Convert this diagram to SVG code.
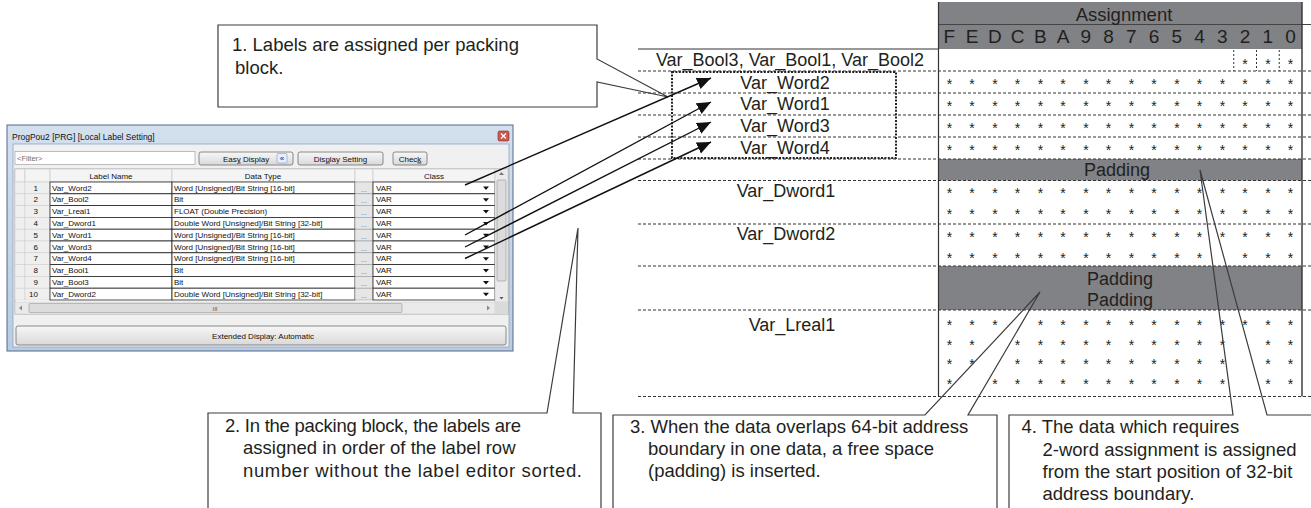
<svg xmlns="http://www.w3.org/2000/svg" width="1311" height="508" viewBox="0 0 1311 508">
<defs>
<style>
.t{font-family:"Liberation Sans",Arial,sans-serif;fill:#231f20}
.lbl{font-size:18px;text-anchor:middle}
.co{font-size:18.5px}
.st{font-size:14px;text-anchor:middle;fill:#222}
.dash{stroke:#333;stroke-width:1;stroke-dasharray:3 2;fill:none}
.dlg{font-family:"Liberation Sans",Arial,sans-serif;font-size:8px;fill:#111}
.hdr{fill:#f4f4f4;stroke:#c4c4c4;stroke-width:0.6}
.num{fill:#efefef;stroke:#cfcfcf;stroke-width:0.6}
.cell{fill:#fff;stroke:#222;stroke-width:0.8}
.dots{fill:#e6e6e6;stroke:#9a9a9a;stroke-width:0.6}
.btn{fill:url(#bg);stroke:#707070;stroke-width:0.8}
.callout{fill:none;stroke:#3c3c3c;stroke-width:1.2}
.arrow{stroke:#111;stroke-width:1.4;fill:none;marker-end:url(#ah)}
</style>
<linearGradient id="bg" x1="0" y1="0" x2="0" y2="1"><stop offset="0" stop-color="#f7f7f7"/><stop offset="1" stop-color="#d9d9d9"/></linearGradient>
<linearGradient id="tb" x1="0" y1="0" x2="0" y2="1"><stop offset="0" stop-color="#d3e0ee"/><stop offset="1" stop-color="#b9cce2"/></linearGradient>
<marker id="ah" markerUnits="userSpaceOnUse" markerWidth="16" markerHeight="14" refX="14" refY="6" orient="auto"><path d="M0,0 L14,6 L0,12 z" fill="#111"/></marker>
</defs>
<rect width="1311" height="508" fill="#fff"/>

<!-- Dialog window -->
<g id="dialog">
<rect x="7" y="125" width="506" height="226" fill="url(#tb)" stroke="#52698a" stroke-width="1"/>
<text class="dlg" x="12" y="140" style="font-size:8.5px">ProgPou2 [PRG] [Local Label Setting]</text>
<rect x="498" y="131" width="11" height="10" rx="1.5" fill="#c85a52" stroke="#8a2f2a" stroke-width="0.6"/>
<path d="M501,133.5 l5,5 M506,133.5 l-5,5" stroke="#fff" stroke-width="1.2"/>
<rect x="13" y="144" width="496" height="203" fill="#f0f0f0" stroke="#8ea5c2" stroke-width="0.8"/>
<rect x="15" y="151.5" width="180" height="13" fill="#fff" stroke="#abadb3" stroke-width="0.8"/>
<text class="dlg" x="17" y="161" style="fill:#707070;font-size:7.5px">&lt;Filter&gt;</text>
<rect class="btn" x="199" y="152" width="94" height="13" rx="2"/>
<text class="dlg" x="246" y="161.5" text-anchor="middle">Eas<tspan text-decoration="underline">y</tspan> Display</text>
<rect x="277" y="153.5" width="10" height="9.5" rx="1" fill="#e6eefa" stroke="#7f9bc4" stroke-width="0.6"/>
<text class="dlg" x="282" y="161" text-anchor="middle" style="fill:#2b5fb4;font-size:8px;font-weight:bold">«</text>
<rect class="btn" x="298" y="152" width="85" height="13" rx="2"/>
<text class="dlg" x="340.5" y="161.5" text-anchor="middle">Dis<tspan text-decoration="underline">p</tspan>lay Setting</text>
<rect class="btn" x="393" y="152" width="34" height="13" rx="2"/>
<text class="dlg" x="410" y="161.5" text-anchor="middle">Chec<tspan text-decoration="underline">k</tspan></text>

<!-- table header -->
<rect x="15" y="169" width="493" height="145" fill="#fff" stroke="#9a9a9a" stroke-width="0.8"/>
<rect class="hdr" x="15" y="169" width="10" height="13"/>
<rect class="hdr" x="25" y="169" width="25" height="13"/>
<rect class="hdr" x="50" y="169" width="122" height="13"/>
<rect class="hdr" x="172" y="169" width="183" height="13"/>
<rect class="hdr" x="355" y="169" width="18" height="13"/>
<rect class="hdr" x="373" y="169" width="122" height="13"/>
<text class="dlg" x="111" y="178.5" text-anchor="middle">Label Name</text>
<text class="dlg" x="263" y="178.5" text-anchor="middle">Data Type</text>
<text class="dlg" x="434" y="178.5" text-anchor="middle">Class</text>

<!-- rows -->
<g id="rows">
<g transform="translate(0,182)">
<rect class="num" x="15" y="0" width="10" height="11.8"/><rect class="num" x="25" y="0" width="25" height="11.8"/>
<rect class="cell" x="50" y="0" width="122" height="11.8"/><rect class="cell" x="172" y="0" width="183" height="11.8"/>
<rect class="dots" x="355" y="0" width="18" height="11.8"/><rect class="cell" x="373" y="0" width="122" height="11.8"/>
<text class="dlg" x="38" y="8.7" text-anchor="end">1</text><text class="dlg" x="52" y="8.7">Var_Word2</text>
<text class="dlg" x="174" y="8.7">Word [Unsigned]/Bit String [16-bit]</text><text class="dlg" x="364" y="9.5" text-anchor="middle" style="fill:#666;font-size:7px">...</text>
<text class="dlg" x="376" y="8.7">VAR</text><path d="M483,4.5 h6 l-3,3.5 z" fill="#111"/>
</g>
<g transform="translate(0,193.8)">
<rect class="num" x="15" y="0" width="10" height="11.8"/><rect class="num" x="25" y="0" width="25" height="11.8"/>
<rect class="cell" x="50" y="0" width="122" height="11.8"/><rect class="cell" x="172" y="0" width="183" height="11.8"/>
<rect class="dots" x="355" y="0" width="18" height="11.8"/><rect class="cell" x="373" y="0" width="122" height="11.8"/>
<text class="dlg" x="38" y="8.7" text-anchor="end">2</text><text class="dlg" x="52" y="8.7">Var_Bool2</text>
<text class="dlg" x="174" y="8.7">Bit</text><text class="dlg" x="364" y="9.5" text-anchor="middle" style="fill:#666;font-size:7px">...</text>
<text class="dlg" x="376" y="8.7">VAR</text><path d="M483,4.5 h6 l-3,3.5 z" fill="#111"/>
</g>
<g transform="translate(0,205.6)">
<rect class="num" x="15" y="0" width="10" height="11.8"/><rect class="num" x="25" y="0" width="25" height="11.8"/>
<rect class="cell" x="50" y="0" width="122" height="11.8"/><rect class="cell" x="172" y="0" width="183" height="11.8"/>
<rect class="dots" x="355" y="0" width="18" height="11.8"/><rect class="cell" x="373" y="0" width="122" height="11.8"/>
<text class="dlg" x="38" y="8.7" text-anchor="end">3</text><text class="dlg" x="52" y="8.7">Var_Lreal1</text>
<text class="dlg" x="174" y="8.7">FLOAT (Double Precision)</text><text class="dlg" x="364" y="9.5" text-anchor="middle" style="fill:#666;font-size:7px">...</text>
<text class="dlg" x="376" y="8.7">VAR</text><path d="M483,4.5 h6 l-3,3.5 z" fill="#111"/>
</g>
<g transform="translate(0,217.4)">
<rect class="num" x="15" y="0" width="10" height="11.8"/><rect class="num" x="25" y="0" width="25" height="11.8"/>
<rect class="cell" x="50" y="0" width="122" height="11.8"/><rect class="cell" x="172" y="0" width="183" height="11.8"/>
<rect class="dots" x="355" y="0" width="18" height="11.8"/><rect class="cell" x="373" y="0" width="122" height="11.8"/>
<text class="dlg" x="38" y="8.7" text-anchor="end">4</text><text class="dlg" x="52" y="8.7">Var_Dword1</text>
<text class="dlg" x="174" y="8.7">Double Word [Unsigned]/Bit String [32-bit]</text><text class="dlg" x="364" y="9.5" text-anchor="middle" style="fill:#666;font-size:7px">...</text>
<text class="dlg" x="376" y="8.7">VAR</text><path d="M483,4.5 h6 l-3,3.5 z" fill="#111"/>
</g>
<g transform="translate(0,229.2)">
<rect class="num" x="15" y="0" width="10" height="11.8"/><rect class="num" x="25" y="0" width="25" height="11.8"/>
<rect class="cell" x="50" y="0" width="122" height="11.8"/><rect class="cell" x="172" y="0" width="183" height="11.8"/>
<rect class="dots" x="355" y="0" width="18" height="11.8"/><rect class="cell" x="373" y="0" width="122" height="11.8"/>
<text class="dlg" x="38" y="8.7" text-anchor="end">5</text><text class="dlg" x="52" y="8.7">Var_Word1</text>
<text class="dlg" x="174" y="8.7">Word [Unsigned]/Bit String [16-bit]</text><text class="dlg" x="364" y="9.5" text-anchor="middle" style="fill:#666;font-size:7px">...</text>
<text class="dlg" x="376" y="8.7">VAR</text><path d="M483,4.5 h6 l-3,3.5 z" fill="#111"/>
</g>
<g transform="translate(0,241)">
<rect class="num" x="15" y="0" width="10" height="11.8"/><rect class="num" x="25" y="0" width="25" height="11.8"/>
<rect class="cell" x="50" y="0" width="122" height="11.8"/><rect class="cell" x="172" y="0" width="183" height="11.8"/>
<rect class="dots" x="355" y="0" width="18" height="11.8"/><rect class="cell" x="373" y="0" width="122" height="11.8"/>
<text class="dlg" x="38" y="8.7" text-anchor="end">6</text><text class="dlg" x="52" y="8.7">Var_Word3</text>
<text class="dlg" x="174" y="8.7">Word [Unsigned]/Bit String [16-bit]</text><text class="dlg" x="364" y="9.5" text-anchor="middle" style="fill:#666;font-size:7px">...</text>
<text class="dlg" x="376" y="8.7">VAR</text><path d="M483,4.5 h6 l-3,3.5 z" fill="#111"/>
</g>
<g transform="translate(0,252.8)">
<rect class="num" x="15" y="0" width="10" height="11.8"/><rect class="num" x="25" y="0" width="25" height="11.8"/>
<rect class="cell" x="50" y="0" width="122" height="11.8"/><rect class="cell" x="172" y="0" width="183" height="11.8"/>
<rect class="dots" x="355" y="0" width="18" height="11.8"/><rect class="cell" x="373" y="0" width="122" height="11.8"/>
<text class="dlg" x="38" y="8.7" text-anchor="end">7</text><text class="dlg" x="52" y="8.7">Var_Word4</text>
<text class="dlg" x="174" y="8.7">Word [Unsigned]/Bit String [16-bit]</text><text class="dlg" x="364" y="9.5" text-anchor="middle" style="fill:#666;font-size:7px">...</text>
<text class="dlg" x="376" y="8.7">VAR</text><path d="M483,4.5 h6 l-3,3.5 z" fill="#111"/>
</g>
<g transform="translate(0,264.6)">
<rect class="num" x="15" y="0" width="10" height="11.8"/><rect class="num" x="25" y="0" width="25" height="11.8"/>
<rect class="cell" x="50" y="0" width="122" height="11.8"/><rect class="cell" x="172" y="0" width="183" height="11.8"/>
<rect class="dots" x="355" y="0" width="18" height="11.8"/><rect class="cell" x="373" y="0" width="122" height="11.8"/>
<text class="dlg" x="38" y="8.7" text-anchor="end">8</text><text class="dlg" x="52" y="8.7">Var_Bool1</text>
<text class="dlg" x="174" y="8.7">Bit</text><text class="dlg" x="364" y="9.5" text-anchor="middle" style="fill:#666;font-size:7px">...</text>
<text class="dlg" x="376" y="8.7">VAR</text><path d="M483,4.5 h6 l-3,3.5 z" fill="#111"/>
</g>
<g transform="translate(0,276.4)">
<rect class="num" x="15" y="0" width="10" height="11.8"/><rect class="num" x="25" y="0" width="25" height="11.8"/>
<rect class="cell" x="50" y="0" width="122" height="11.8"/><rect class="cell" x="172" y="0" width="183" height="11.8"/>
<rect class="dots" x="355" y="0" width="18" height="11.8"/><rect class="cell" x="373" y="0" width="122" height="11.8"/>
<text class="dlg" x="38" y="8.7" text-anchor="end">9</text><text class="dlg" x="52" y="8.7">Var_Bool3</text>
<text class="dlg" x="174" y="8.7">Bit</text><text class="dlg" x="364" y="9.5" text-anchor="middle" style="fill:#666;font-size:7px">...</text>
<text class="dlg" x="376" y="8.7">VAR</text><path d="M483,4.5 h6 l-3,3.5 z" fill="#111"/>
</g>
<g transform="translate(0,288.2)">
<rect class="num" x="15" y="0" width="10" height="11.8"/><rect class="num" x="25" y="0" width="25" height="11.8"/>
<rect class="cell" x="50" y="0" width="122" height="11.8"/><rect class="cell" x="172" y="0" width="183" height="11.8"/>
<rect class="dots" x="355" y="0" width="18" height="11.8"/><rect class="cell" x="373" y="0" width="122" height="11.8"/>
<text class="dlg" x="38" y="8.7" text-anchor="end">10</text><text class="dlg" x="52" y="8.7">Var_Dword2</text>
<text class="dlg" x="174" y="8.7">Double Word [Unsigned]/Bit String [32-bit]</text><text class="dlg" x="364" y="9.5" text-anchor="middle" style="fill:#666;font-size:7px">...</text>
<text class="dlg" x="376" y="8.7">VAR</text><path d="M483,4.5 h6 l-3,3.5 z" fill="#111"/>
</g>
</g>
<!-- vertical scrollbar -->
<rect x="495" y="169" width="13" height="133" fill="#eaeaea" stroke="#c8c8c8" stroke-width="0.6"/>
<path d="M499,175 h5 l-2.5,-3 z" fill="#777"/>
<rect x="497" y="180" width="9" height="101" rx="1" fill="#dcdcdc" stroke="#999" stroke-width="0.6"/>
<path d="M499.5,297 h4 l-2,2.5 z" fill="#555"/>
<!-- horizontal scrollbar -->
<rect x="15" y="302" width="480" height="12" fill="#eaeaea" stroke="#c8c8c8" stroke-width="0.6"/>
<path d="M22,305.5 v5 l-3,-2.5 z" fill="#888"/>
<rect x="29" y="303.5" width="373" height="9" rx="1" fill="#dcdcdc" stroke="#9a9a9a" stroke-width="0.6"/>
<text class="dlg" x="215" y="311" text-anchor="middle" style="font-size:6px;fill:#555">III</text>
<path d="M487,305.5 v5 l3,-2.5 z" fill="#888"/>
<rect x="495" y="302" width="13" height="12" fill="#dadada"/>
<rect class="btn" x="16" y="326" width="490" height="19" rx="2"/>
<text class="dlg" x="263" y="338.5" text-anchor="middle">Extended Display: Automatic</text>
</g>

<!-- Assignment table -->
<g id="assignment-header">
<rect x="938" y="2" width="364" height="47" fill="#808285"/>
<line x1="938" y1="24.5" x2="1311" y2="24.5" stroke="#444" stroke-width="1"/>
<text class="t" x="1124" y="20.5" text-anchor="middle" style="font-size:18.5px">Assignment</text>
<text class="t" y="43" text-anchor="middle" style="font-size:19px" x="949.4 972.1 994.9 1017.6 1040.4 1063.1 1085.9 1108.6 1131.4 1154.1 1176.9 1199.6 1222.4 1245.1 1267.9 1290.6">FEDCBA9876543210</text>
</g>

<g id="padding-blocks">
<rect x="938" y="159" width="364" height="21.5" fill="#808285"/>
<text class="t lbl" x="1117" y="176">Padding</text>
<rect x="938" y="266" width="364" height="44" fill="#808285"/>
<text class="t lbl" x="1120" y="285">Padding</text>
<text class="t lbl" x="1120" y="306">Padding</text>
</g>

<g id="grid-lines">
<line x1="638" y1="49" x2="938" y2="49" stroke="#333" stroke-width="1"/>
<path class="dash" d="M638,71H1311 M638,93H1311 M638,115H1311 M638,137H1311 M638,159H1311 M638,180.5H1311 M638,224H1311 M638,266H1311 M638,310H1311 M638,396.5H1311"/>
<line x1="938.5" y1="2" x2="938.5" y2="396.5" stroke="#333" stroke-width="1.2"/>
<line x1="1302" y1="2" x2="1302" y2="396.5" stroke="#333" stroke-width="1.4"/>
<path d="M1233.75,50V71 M1256.5,50V71 M1279.25,50V71" stroke="#333" stroke-width="1" stroke-dasharray="2 2"/>
</g>

<g id="row-labels">
<text class="t lbl" x="790" y="66">Var_Bool3, Var_Bool1, Var_Bool2</text>
<text class="t lbl" x="785" y="88.5">Var_Word2</text>
<text class="t lbl" x="785" y="110">Var_Word1</text>
<text class="t lbl" x="785" y="132">Var_Word3</text>
<text class="t lbl" x="785" y="153.5">Var_Word4</text>
<text class="t lbl" x="786" y="196.5">Var_Dword1</text>
<text class="t lbl" x="786" y="240">Var_Dword2</text>
<text class="t lbl" x="792" y="331">Var_Lreal1</text>
</g>

<g id="stars" class="t st">
<text x="1245.1 1267.9 1290.6" y="68.5">***</text>
<text x="949.4 972.1 994.9 1017.6 1040.4 1063.1 1085.9 1108.6 1131.4 1154.1 1176.9 1199.6 1222.4 1245.1 1267.9 1290.6" y="89">****************</text>
<text x="949.4 972.1 994.9 1017.6 1040.4 1063.1 1085.9 1108.6 1131.4 1154.1 1176.9 1199.6 1222.4 1245.1 1267.9 1290.6" y="111">****************</text>
<text x="949.4 972.1 994.9 1017.6 1040.4 1063.1 1085.9 1108.6 1131.4 1154.1 1176.9 1199.6 1222.4 1245.1 1267.9 1290.6" y="133">****************</text>
<text x="949.4 972.1 994.9 1017.6 1040.4 1063.1 1085.9 1108.6 1131.4 1154.1 1176.9 1199.6 1222.4 1245.1 1267.9 1290.6" y="155">****************</text>
<text x="949.4 972.1 994.9 1017.6 1040.4 1063.1 1085.9 1108.6 1131.4 1154.1 1176.9 1199.6 1222.4 1245.1 1267.9 1290.6" y="197.5">****************</text>
<text x="949.4 972.1 994.9 1017.6 1040.4 1063.1 1085.9 1108.6 1131.4 1154.1 1176.9 1199.6 1222.4 1245.1 1267.9 1290.6" y="219">****************</text>
<text x="949.4 972.1 994.9 1017.6 1040.4 1063.1 1085.9 1108.6 1131.4 1154.1 1176.9 1199.6 1222.4 1245.1 1267.9 1290.6" y="241.5">****************</text>
<text x="949.4 972.1 994.9 1017.6 1040.4 1063.1 1085.9 1108.6 1131.4 1154.1 1176.9 1199.6 1245.1 1267.9 1290.6" y="263">***************</text>
<text x="949.4 972.1 994.9 1040.4 1063.1 1085.9 1108.6 1131.4 1154.1 1176.9 1199.6 1222.4 1245.1 1267.9 1290.6" y="330">***************</text>
<text x="949.4 972.1 1017.6 1040.4 1063.1 1085.9 1108.6 1131.4 1154.1 1176.9 1199.6 1222.4 1267.9 1290.6" y="349.5">**************</text>
<text x="949.4 972.1 1017.6 1040.4 1063.1 1085.9 1108.6 1131.4 1154.1 1176.9 1199.6 1222.4 1267.9 1290.6" y="369">**************</text>
<text x="949.4 994.9 1017.6 1040.4 1063.1 1085.9 1108.6 1131.4 1154.1 1176.9 1199.6 1222.4 1267.9 1290.6" y="388.5">**************</text>
</g>

<g id="packing-block">
<rect x="672" y="72" width="224" height="86" fill="none" stroke="#222" stroke-width="2" stroke-dasharray="2 1.4"/>
</g>

<g id="callout1">
<rect x="218" y="25" width="379" height="82" fill="#fff"/>
<path class="callout" d="M218,25 H597 V59 L668,97 L597,82 V107 H218 Z"/>
<text class="t co" x="232" y="51">1. Labels are assigned per packing</text>
<text class="t co" x="235" y="73.5">block.</text>
</g>
<g id="callout2">
<path class="callout" d="M208,515 V413 H547 L578,228 L573,413 H601 V515"/>
<text class="t co" x="225" y="431.5" textLength="296" lengthAdjust="spacing">2. In the packing block, the labels are</text>
<text class="t co" x="243" y="454">assigned in order of the label row</text>
<text class="t co" x="243" y="476.5" textLength="339" lengthAdjust="spacing">number without the label editor sorted.</text>
</g>
<g id="callout3">
<path class="callout" d="M613,515 V415 H925 L1040,292 L968,415 H997 V515"/>
<text class="t co" x="630" y="433">3. When the data overlaps 64-bit address</text>
<text class="t co" x="648" y="455">boundary in one data, a free space</text>
<text class="t co" x="648" y="477">(padding) is inserted.</text>
</g>
<g id="callout4">
<path class="callout" d="M1009,515 V415 H1233 L1200,170 L1267,415 H1313"/>
<text class="t co" x="1021.5" y="433">4. The data which requires</text>
<text class="t co" x="1042.5" y="456">2-word assignment is assigned</text>
<text class="t co" x="1042.5" y="478">from the start position of 32-bit</text>
<text class="t co" x="1042.5" y="500">address boundary.</text>
</g>

<g id="connectors">
<line class="arrow" x1="465" y1="185" x2="711" y2="78"/>
<line class="arrow" x1="465" y1="235" x2="711" y2="102"/>
<line class="arrow" x1="465" y1="247" x2="711" y2="122"/>
<line class="arrow" x1="465" y1="258.5" x2="711" y2="142"/>
</g>
</svg>
